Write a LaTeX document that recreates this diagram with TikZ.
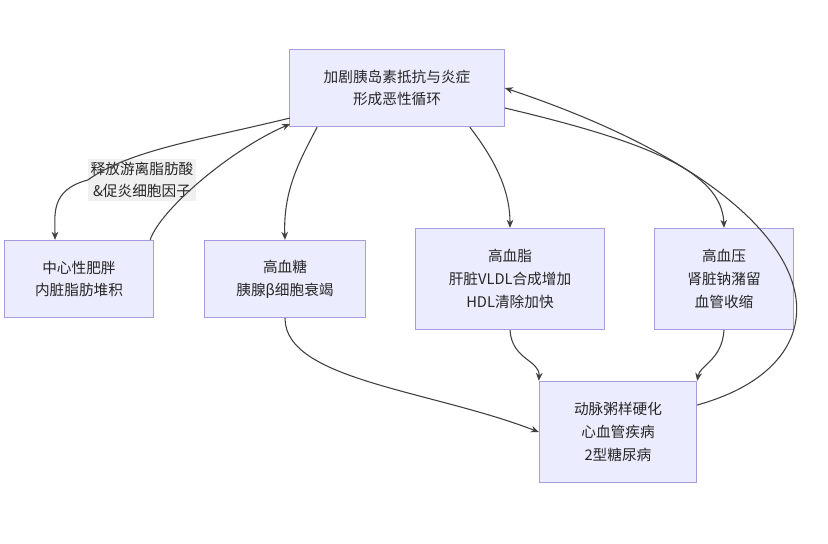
\documentclass[tikz,border=0pt]{standalone}
\usepackage{fontspec}
\setmainfont{Noto Sans CJK SC}
\usetikzlibrary{arrows.meta}
\definecolor{bfill}{HTML}{ECECFF}
\definecolor{bdraw}{HTML}{A99BE0}
\tikzset{
  box/.style={draw=bdraw,fill=bfill,line width=0.8pt,align=center,font=\fontsize{11}{17}\selectfont,text=black!85,inner sep=0pt},
  arr/.style={draw=black!75,line width=0.8pt,-{Stealth[length=6pt,width=5pt]}},
  lab/.style={fill=black!6,font=\fontsize{11}{17}\selectfont,align=center,text=black!85,inner sep=2pt}
}
\begin{document}
\begin{tikzpicture}[x=0.75pt,y=-0.75pt]
\useasboundingbox[fill=white] (0,0) rectangle (828,543);
\node[box,minimum width=161pt,minimum height=58pt] (top) at (397,88) {加剧胰岛素抵抗与炎症\\形成恶性循环};
\node[box,minimum width=112pt,minimum height=58pt] (ob) at (79,279) {中心性肥胖\\内脏脂肪堆积};
\node[box,minimum width=121pt,minimum height=58pt] (gl) at (285,279) {高血糖\\胰腺β细胞衰竭};
\node[box,minimum width=142pt,minimum height=76pt] (li) at (510,279) {高血脂\\肝脏VLDL合成增加\\HDL清除加快};
\node[box,minimum width=104pt,minimum height=76pt] (pr) at (724,279) {高血压\\肾脏钠潴留\\血管收缩};
\node[box,minimum width=118pt,minimum height=76pt] (at) at (618,432) {动脉粥样硬化\\心血管疾病\\2型糖尿病};
\node[lab] (l1) at (142,180) {释放游离脂肪酸\\\&促炎细胞因子};
\coordinate (t1) at (290,118);
\coordinate (t2) at (290,124);
\draw[arr] (t1) .. controls (200,140) and (130,150) .. (l1.west) .. controls (50,190) and (55,215) .. (ob.north west -| 55,0);
\draw[arr] (ob.north east) ++(-4,0) .. controls (160,210) and (230,150) .. (t2);
\draw[arr] (top.south west) ++(28,0) .. controls (300,160) and (283,190) .. (gl.north);
\draw[arr] (top.south east) ++(-35,0) .. controls (495,160) and (510,190) .. (li.north);
\draw[arr] (top.east) ++(0,20) .. controls (640,140) and (722,170) .. (pr.north);
\draw[arr] (gl.south) .. controls (285,380) and (430,390) .. (at.west);
\draw[arr] (li.south) .. controls (512,360) and (540,360) .. (at.north west);
\draw[arr] (pr.south) .. controls (722,360) and (700,365) .. (at.north east);
\draw[arr] (at.east) ++(0,-27) .. controls (860,360) and (840,200) .. (top.east);
\end{tikzpicture}
\end{document}
